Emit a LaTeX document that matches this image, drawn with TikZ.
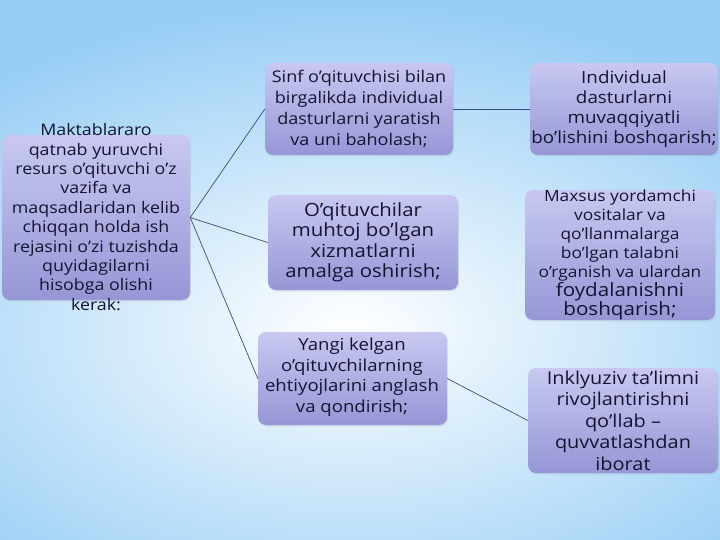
\documentclass[tikz,border=0pt]{standalone}
\usepackage{fontspec}
\setmainfont{Open Sans}[FakeStretch=1.12]
\usetikzlibrary{shadows}
\definecolor{bgblue}{RGB}{150,205,245}
\definecolor{boxtop}{RGB}{200,200,242}
\definecolor{boxbot}{RGB}{150,150,214}
\definecolor{ink}{RGB}{20,20,50}
\definecolor{wire}{RGB}{60,75,125}
\tikzset{
  box/.style={rectangle, rounded corners=8pt, top color=boxtop, bottom color=boxbot,
    draw=none, inner sep=0pt, drop shadow={opacity=0.15, shadow xshift=1pt, shadow yshift=-1.5pt}},
  txt/.style={align=center, text=ink, inner sep=0pt, font=\fontsize{15.9}{19.4}\selectfont},
  wire/.style={draw=wire, line width=0.7pt}
}
\begin{document}
\begin{tikzpicture}[x=1pt,y=-1pt]
\useasboundingbox (0,0) rectangle (720,540);
% background
\fill[bgblue] (0,0) rectangle (720,540);
\begin{scope}
\clip (0,0) rectangle (720,540);
\shade[inner color=white, outer color=bgblue] (350,330) ellipse (560 and 330);
\end{scope}
% boxes
\node[box, minimum width=188pt, minimum height=165pt] (L)  at (96,217.5) {};
\node[box, minimum width=188pt, minimum height=92pt]  (TM) at (359,109) {};
\node[box, minimum width=190pt, minimum height=95pt]  (MM) at (363,242.5) {};
\node[box, minimum width=189pt, minimum height=93pt]  (BM) at (352.5,378.5) {};
\node[box, minimum width=188pt, minimum height=92pt]  (TR) at (624,109) {};
\node[box, minimum width=190pt, minimum height=130pt] (RM) at (620,255) {};
\node[box, minimum width=190pt, minimum height=105pt] (BR) at (623,420.5) {};
% connectors
\draw[wire] (L.east) -- (TM.west);
\draw[wire] (L.east) -- (MM.west);
\draw[wire] (L.east) -- (BM.west);
\draw[wire] (TM.east) -- (TR.west);
\draw[wire] (BM.east) -- (BR.west);
% texts
\node[txt] (Lt) at (96,217) {Maktablararo\\qatnab yuruvchi\\resurs o’qituvchi o’z\\vazifa va\\maqsadlaridan kelib\\chiqqan holda ish\\rejasini o’zi tuzishda\\quyidagilarni\\hisobga olishi\\kerak:};
\node[txt, font=\fontsize{16.1}{21}\selectfont] (TMt) at (TM.center) {Sinf o’qituvchisi bilan\\birgalikda individual\\dasturlarni yaratish\\va uni baholash;};
\node[txt, font=\fontsize{18.2}{20.5}\selectfont] (MMt) at (MM.center) {O’qituvchilar\\muhtoj bo’lgan\\xizmatlarni\\amalga oshirish;};
\node[txt, font=\fontsize{16.6}{20.5}\selectfont] (BMt) at (352,377) {Yangi kelgan\\o’qituvchilarning\\ehtiyojlarini anglash\\va qondirish;};
\node[txt, font=\fontsize{16.8}{20}\selectfont] (TRt) at (TR.center) {Individual\\dasturlarni\\muvaqqiyatli\\bo’lishini boshqarish;};
\node[txt, font=\fontsize{15.5}{19}\selectfont] (RMt) at (RM.center) {Maxsus yordamchi\\vositalar va\\qo’llanmalarga\\bo’lgan talabni\\o’rganish va ulardan\\{\fontsize{18.4}{21}\selectfont foydalanishni}\\{\fontsize{18.4}{21}\selectfont boshqarish;}};
\node[txt, font=\fontsize{17.8}{21.5}\selectfont] (BRt) at (BR.center) {Inklyuziv ta’limni\\rivojlantirishni\\qo’llab –\\quvvatlashdan\\iborat};
\end{tikzpicture}
\end{document}
